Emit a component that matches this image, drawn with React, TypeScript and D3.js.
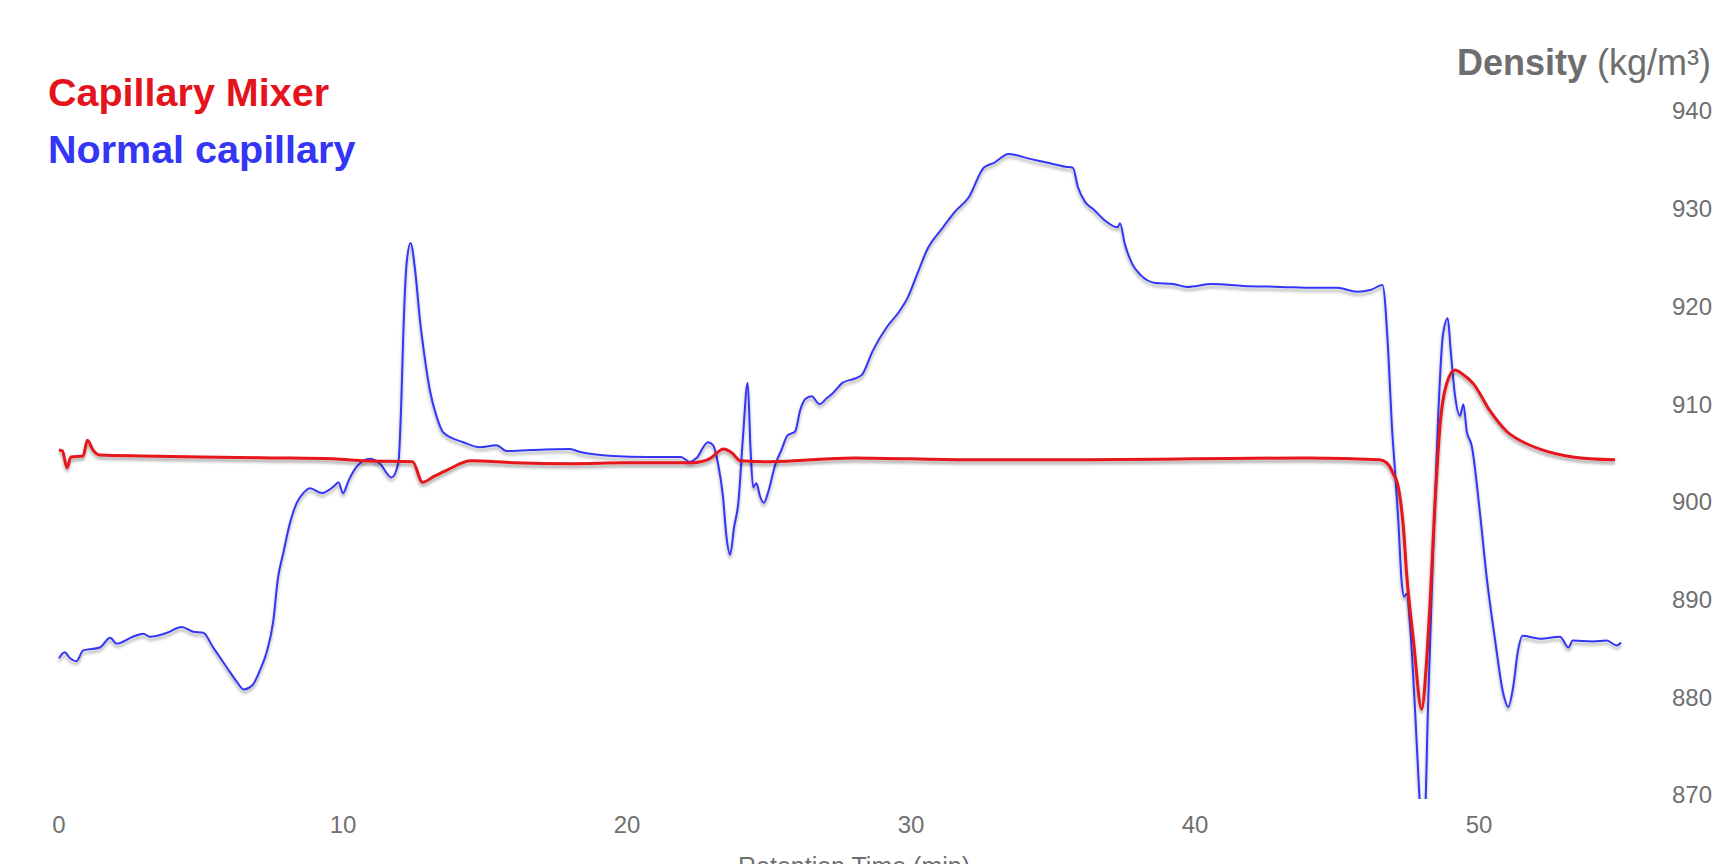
import React from "react";
import * as d3 from "d3";

const blueTime = [0.0,0.2,0.39,0.62,0.85,1.44,1.8,2.03,2.6,2.97,3.2,3.8,4.32,4.73,5.08,5.43,5.9,6.26,6.5,6.8,7.08,7.3,7.55,7.7,7.9,8.13,8.37,8.6,8.84,9.25,9.72,9.84,10.0,10.2,10.48,10.95,11.3,11.71,11.95,12.05,12.12,12.24,12.38,12.54,12.71,12.89,13.06,13.3,13.53,14.24,14.82,15.4,15.76,16.6,18.0,18.35,19.5,20.7,21.9,22.2,22.45,22.85,23.03,23.2,23.38,23.5,23.63,23.77,23.92,24.08,24.25,24.35,24.44,24.56,24.68,24.82,24.96,25.22,25.45,25.65,25.92,26.1,26.27,26.5,26.78,27.03,27.27,27.6,28.0,28.27,28.66,29.15,29.54,29.9,30.23,30.6,31.05,31.55,32.04,32.56,32.92,33.44,34.19,34.82,35.45,35.7,35.88,36.13,36.44,36.83,37.27,37.36,37.52,37.78,38.09,38.6,39.23,39.72,40.6,41.7,43.0,44.25,45.0,45.7,46.2,46.6,46.8,46.93,47.04,47.16,47.28,47.36,47.45,47.57,47.75,47.9,48.0,48.1,48.2,48.38,48.56,48.73,48.9,49.0,49.15,49.33,49.45,49.57,49.74,50.04,50.27,50.56,50.86,51.03,51.2,51.38,51.53,52.15,52.85,53.15,53.3,54.0,54.5,54.85,55.0];
const blueDensity = [884.0,884.6,884.0,883.7,884.8,885.1,886.1,885.5,886.2,886.5,886.2,886.6,887.2,886.7,886.6,885.1,883.1,881.6,880.8,881.2,882.8,884.5,887.9,892.0,894.8,897.8,899.9,900.9,901.4,900.9,901.7,902.0,900.9,902.2,903.6,904.4,903.9,902.5,904.0,910.0,916.9,924.4,926.5,923.7,918.6,914.5,911.4,908.7,907.1,906.1,905.6,905.8,905.2,905.3,905.4,905.1,904.7,904.6,904.6,904.1,904.5,906.1,905.8,904.0,900.5,896.5,894.6,897.4,899.9,906.5,912.2,905.4,901.5,901.9,900.6,899.9,900.9,903.8,905.4,906.8,907.2,909.4,910.5,910.8,910.0,910.6,911.2,912.2,912.6,913.0,915.5,917.9,919.3,921.0,923.4,926.0,927.8,929.7,931.2,934.2,934.7,935.6,935.1,934.7,934.3,934.2,932.2,930.7,929.9,928.8,928.1,928.5,926.5,924.4,923.2,922.4,922.3,922.0,922.3,922.1,922.0,921.9,921.9,921.5,921.7,922.2,915.6,907.9,903.3,898.0,891.7,890.3,890.6,887.4,878.6,870.0,866.0,868.0,878.6,894.5,908.6,917.1,918.8,915.6,911.0,908.8,910.0,907.2,905.8,898.7,892.3,886.0,880.3,879.0,881.0,884.9,886.3,886.0,886.2,885.1,885.8,885.7,885.8,885.3,885.6];

const redTime = [0.0,0.12,0.28,0.42,0.85,1.0,1.2,1.44,3.0,5.0,7.5,9.65,10.8,12.45,12.8,13.2,13.7,14.5,16.0,18.0,20.0,22.3,22.9,23.4,23.7,24.0,25.0,28.0,32.0,36.0,40.0,44.0,46.5,46.75,46.98,47.16,47.34,47.45,47.7,47.98,48.16,48.27,48.45,48.63,48.86,49.15,49.45,49.8,50.39,50.98,51.57,52.15,53.3,54.79];
const redDensity = [905.3,905.2,903.5,904.6,904.7,906.3,905.3,904.8,904.7,904.6,904.5,904.4,904.2,904.1,902.0,902.6,903.3,904.2,904.0,903.9,904.0,904.0,904.4,905.4,905.0,904.2,904.1,904.5,904.3,904.3,904.4,904.5,904.3,904.0,902.9,901.5,897.3,892.7,885.6,878.8,883.9,889.2,899.8,907.9,912.1,913.5,913.0,912.1,909.3,907.2,906.1,905.4,904.6,904.3];

const xTicks = [0, 10, 20, 30, 40, 50];
const yTicks = [870, 880, 890, 900, 910, 920, 930, 940];

const W = 1717;
const H = 864;
const FONT = "'Liberation Sans', Arial, Helvetica, sans-serif";

export default function App() {
  const x = d3.scaleLinear().domain([0, 50]).range([59, 1479]);
  const y = d3.scaleLinear().domain([870, 940]).range([795, 111]);

  const line = d3
    .line<[number, number]>()
    .x((d) => x(d[0]))
    .y((d) => y(d[1]))
    .curve(d3.curveMonotoneX);

  const blue: [number, number][] = blueTime.map((t, i) => [t, blueDensity[i]]);
  const red: [number, number][] = redTime.map((t, i) => [t, redDensity[i]]);

  return (
    <>
      <style>{`body{margin:0;overflow:hidden;background:#fff}`}</style>
      <svg width={W} height={H} style={{ display: "block" }} fontFamily={FONT}>
        <defs>
          <filter id="shadow" x="-5%" y="-5%" width="110%" height="120%">
            <feDropShadow dx="0" dy="3" stdDeviation="1.6" floodColor="#000" floodOpacity="0.35" />
          </filter>
          <clipPath id="plot">
            <rect x={0} y={0} width={W} height={y(870) + 4} />
          </clipPath>
        </defs>
        <rect width={W} height={H} fill="#fff" />
        <g clipPath="url(#plot)">
          <path d={line(blue) || ""} fill="none" stroke="#3535f5" strokeWidth={2} strokeLinejoin="round" filter="url(#shadow)" />
          <path d={line(red) || ""} fill="none" stroke="#e5141c" strokeWidth={3} strokeLinejoin="round" filter="url(#shadow)" />
        </g>
        {yTicks.map((v) => (
          <text key={v} x={1712} y={y(v)} dy="0.35em" textAnchor="end" fontSize={24} fill="#707070">
            {v}
          </text>
        ))}
        {xTicks.map((t) => (
          <text key={t} x={x(t)} y={825} dy="0.35em" textAnchor="middle" fontSize={24} fill="#707070">
            {t}
          </text>
        ))}
        <text x={854} y={875} textAnchor="middle" fontSize={25} fill="#707070">
          Retention Time (min)
        </text>
        <text x={1711} y={75} textAnchor="end" fontSize={36} fill="#6e6e6e">
          <tspan fontWeight="bold">Density</tspan>
          <tspan> (kg/m³)</tspan>
        </text>
        <text x={48} y={106} fontSize={39.5} fontWeight="bold" fill="#e5141c">
          Capillary Mixer
        </text>
        <text x={48} y={163} fontSize={39.5} fontWeight="bold" fill="#3535f5">
          Normal capillary
        </text>
      </svg>
    </>
  );
}
